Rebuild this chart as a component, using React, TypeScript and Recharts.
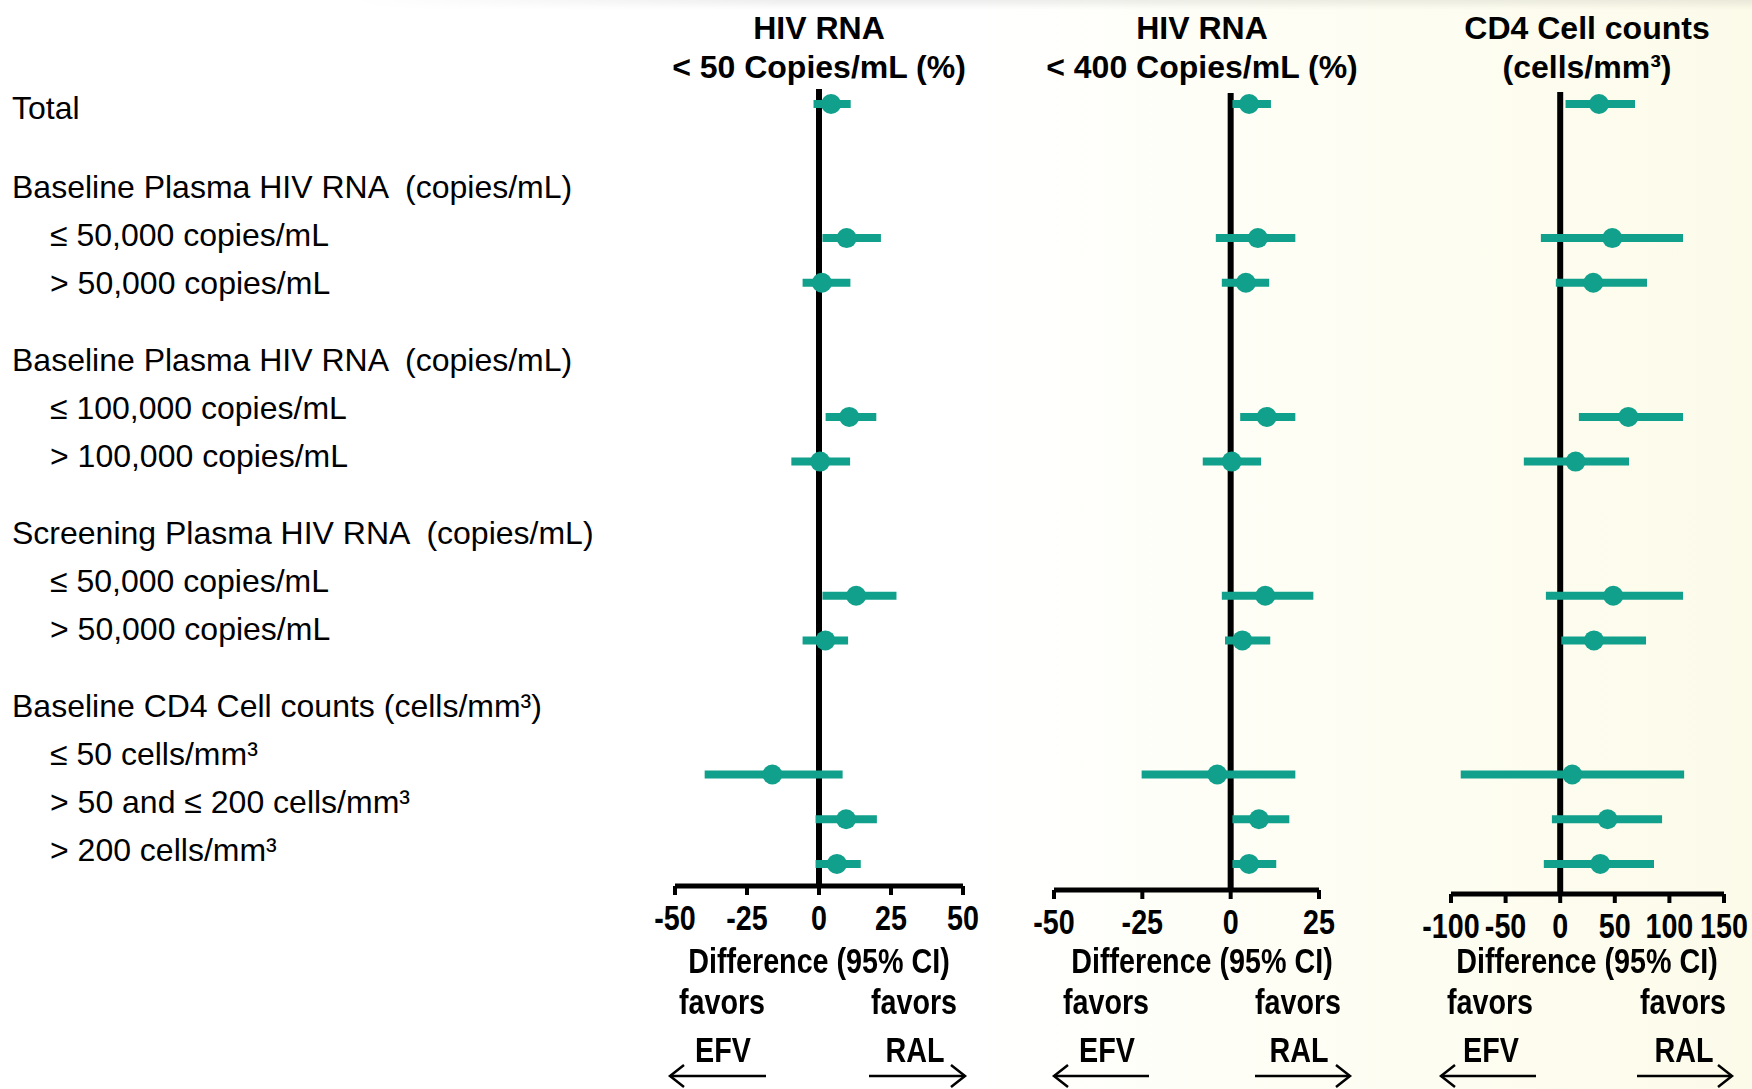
import React from "react";
import { ScatterChart, Scatter, XAxis, YAxis, ErrorBar, ReferenceLine } from "recharts";

// subgroup rows (group index decides the vertical gaps)
const rowGroup = [0, 1, 1, 2, 2, 3, 3, 4, 4, 4];

const groupTitles = [
  "Baseline Plasma HIV RNA  (copies/mL)",
  "Baseline Plasma HIV RNA  (copies/mL)",
  "Screening Plasma HIV RNA  (copies/mL)",
  "Baseline CD4 Cell counts (cells/mm³)",
];
const subgroupLabels = [
  ["≤ 50,000 copies/mL", "> 50,000 copies/mL"],
  ["≤ 100,000 copies/mL", "> 100,000 copies/mL"],
  ["≤ 50,000 copies/mL", "> 50,000 copies/mL"],
  ["≤ 50 cells/mm³", "> 50 and ≤ 200 cells/mm³", "> 200 cells/mm³"],
];

// HIV RNA < 50 copies/mL (%)
const rna50Est = [4.2, 9.6, 1.0, 10.5, 0.4, 12.9, 2.2, -16.2, 9.4, 6.2];
const rna50Low = [-1.9, 1.2, -5.7, 2.3, -9.6, 1.2, -5.7, -39.7, -1.2, -1.2];
const rna50High = [11.0, 21.5, 10.9, 19.9, 10.8, 26.9, 10.1, 8.2, 20.1, 14.5];

// HIV RNA < 400 copies/mL (%)
const rna400Est = [5.2, 7.7, 4.3, 10.2, 0.3, 9.8, 3.3, -3.8, 8.0, 5.2];
const rna400Low = [0.5, -4.2, -2.5, 2.7, -7.9, -2.5, -1.6, -25.2, 0.5, 0.5];
const rna400High = [11.4, 18.3, 10.9, 18.3, 8.6, 23.4, 11.2, 18.3, 16.6, 12.9];

// CD4 cell counts (cells/mm3)
const cd4Est = [35.5, 47.7, 30.3, 62.4, 14.1, 48.6, 30.9, 11.0, 43.4, 36.7];
const cd4Low = [4.9, -17.7, -4.0, 17.1, -33.3, -13.1, 1.0, -91.1, -7.6, -15.0];
const cd4High = [68.5, 112.5, 79.5, 112.5, 63.0, 112.5, 78.6, 113.5, 93.3, 85.9];

const rna50Ticks = [-50, -25, 0, 25, 50];
const rna400Ticks = [-50, -25, 0, 25];
const cd4Ticks = [-100, -50, 0, 50, 100, 150];

const TEAL = "#10a08b";
const SANS = '"Liberation Sans", Arial, sans-serif';
const NARROW_SCALE = 0.82; // no narrow face installed, so squeeze the bold sans
const TICK_FS = 35;

const ROW0_PX = 104;
const ROW_PX = 44.7;

const rowPos = rowGroup.map((g, i) => i + 2 * g);

const panels = [
  {
    title: ["HIV RNA", "< 50 Copies/mL (%)"],
    est: rna50Est, low: rna50Low, high: rna50High,
    domain: [-50, 50], ticks: rna50Ticks,
    x0: 675, x1: 963, top: 89, axisY: 886, labelX: 819,
    favors: [722, 914], arrows: [670, 766, 869, 965],
  },
  {
    title: ["HIV RNA", "< 400 Copies/mL (%)"],
    est: rna400Est, low: rna400Low, high: rna400High,
    domain: [-50, 25], ticks: rna400Ticks,
    x0: 1054, x1: 1319, top: 93, axisY: 890, labelX: 1202,
    favors: [1106, 1298], arrows: [1054, 1149, 1255, 1350],
  },
  {
    title: ["CD4 Cell counts", "(cells/mm³)"],
    est: cd4Est, low: cd4Low, high: cd4High,
    domain: [-100, 150], ticks: cd4Ticks,
    x0: 1451, x1: 1724, top: 92, axisY: 894, labelX: 1587,
    favors: [1490, 1683], arrows: [1441, 1536, 1637, 1732],
  },
];

// width of a bold numeric label, squeezed like Arial Narrow
const tickWidth = (s: string) =>
  s.split("").reduce((w, ch) => w + (ch === "-" ? 0.333 : 0.556), 0) * TICK_FS * NARROW_SCALE;

const renderTick = (p: any) => {
  const s = String(p.payload.value);
  return (
    <text
      x={p.x}
      y={p.y}
      dy="0.71em"
      textAnchor="middle"
      textLength={tickWidth(s)}
      lengthAdjust="spacingAndGlyphs"
      fontFamily={SANS}
      fontWeight={700}
      fontSize={TICK_FS}
      fill="#000"
    >
      {s}
    </text>
  );
};

const Dot = (p: any) => <circle cx={p.cx} cy={p.cy} r={10} fill={TEAL} />;

function ForestPanel({ panel }: { panel: any }) {
  const data = panel.est.map((v: number, i: number) => ({
    x: v,
    y: rowPos[i],
    err: [v - panel.low[i], panel.high[i] - v],
  }));
  const mL = 30;
  const mR = 26;
  const mT = 4;
  const axisH = 56;
  const width = panel.x1 - panel.x0 + mL + mR;
  const height = panel.axisY - panel.top + mT + axisH;
  const yTop = -(ROW0_PX - panel.top) / ROW_PX;
  const yBot = (panel.axisY - ROW0_PX) / ROW_PX;
  return (
    <div style={{ position: "absolute", left: panel.x0 - mL, top: panel.top - mT }}>
      <ScatterChart width={width} height={height} margin={{ top: mT, right: mR, bottom: 0, left: mL }}>
        <XAxis
          type="number"
          dataKey="x"
          domain={panel.domain}
          ticks={panel.ticks}
          interval={0}
          allowDataOverflow
          height={axisH}
          axisLine={{ stroke: "#000", strokeWidth: 5 }}
          tickLine={{ stroke: "#000", strokeWidth: 4 }}
          tickSize={9}
          tickMargin={10}
          tick={renderTick}
        />
        <YAxis type="number" dataKey="y" domain={[yTop, yBot]} reversed hide allowDataOverflow />
        <ReferenceLine x={0} stroke="#000" strokeWidth={6} />
        <Scatter data={data} fill={TEAL} shape={Dot} isAnimationActive={false}>
          <ErrorBar dataKey="err" direction="x" width={0} stroke={TEAL} strokeWidth={8} isAnimationActive={false} />
        </Scatter>
      </ScatterChart>
    </div>
  );
}

const centerText = (text: string, cx: number, cy: number, size: number, narrow: boolean, boxW = 340) => (
  <div
    key={text + cx + cy}
    style={{
      position: "absolute",
      left: cx - boxW / 2,
      width: boxW,
      top: cy - 13,
      height: 26,
      lineHeight: "26px",
      textAlign: "center",
      fontFamily: SANS,
      fontWeight: 700,
      fontSize: size,
      color: "#000",
      whiteSpace: "pre",
      transform: narrow ? `scaleX(${NARROW_SCALE})` : undefined,
    }}
  >
    {text}
  </div>
);

export default function App() {
  const leftRows: { text: string; y: number; indent: boolean }[] = [{ text: "Total", y: 108, indent: false }];
  groupTitles.forEach((t, k) => {
    const hy = 187 + 173 * k;
    leftRows.push({ text: t, y: hy, indent: false });
    subgroupLabels[k].forEach((s, j) => leftRows.push({ text: s, y: hy + 48 * (j + 1), indent: true }));
  });

  return (
    <div
      style={{
        position: "absolute",
        left: 0,
        top: 0,
        width: 1752,
        height: 1089,
        overflow: "hidden",
        background: "linear-gradient(to right, #ffffff 0%, #ffffff 56%, #fefef6 70%, #fcfbea 100%)",
      }}
    >
      <div
        style={{
          position: "absolute",
          left: 0,
          top: 0,
          width: 1752,
          height: 10,
          background: "linear-gradient(to bottom, rgba(0,0,0,0.07), rgba(0,0,0,0))",
          WebkitMaskImage: "linear-gradient(to right, transparent 20%, black 45%)",
        }}
      />
      {leftRows.map((r, i) => (
        <div
          key={i}
          style={{
            position: "absolute",
            left: r.indent ? 50 : 12,
            top: r.y - 19,
            height: 38,
            lineHeight: "38px",
            fontFamily: SANS,
            fontSize: 32,
            color: "#000",
            whiteSpace: "pre",
          }}
        >
          {r.text}
        </div>
      ))}

      {panels.map((p, i) => (
        <React.Fragment key={i}>
          <ForestPanel panel={p} />
          {centerText(p.title[0], p.labelX, 28, 32, false)}
          {centerText(p.title[1], p.labelX, 67, 32, false)}
          {centerText("Difference (95% CI)", p.labelX, 961, 35, true)}
          {centerText("favors", p.favors[0], 1002, 35, true, 130)}
          {centerText("favors", p.favors[1], 1002, 35, true, 130)}
          {centerText("EFV", p.favors[0] + 1, 1050, 35, true, 100)}
          {centerText("RAL", p.favors[1] + 1, 1050, 35, true, 100)}
        </React.Fragment>
      ))}

      <svg width={1752} height={1089} style={{ position: "absolute", left: 0, top: 0, pointerEvents: "none" }}>
        {panels.map((p, i) => {
          const [a, b, c, d] = p.arrows;
          return (
            <g key={i} stroke="#000" strokeWidth={2.5} fill="none">
              <line x1={a} y1={1076} x2={b} y2={1076} />
              <polyline points={`${a + 14},${1065} ${a},${1076} ${a + 14},${1087}`} />
              <line x1={c} y1={1076} x2={d} y2={1076} />
              <polyline points={`${d - 14},${1065} ${d},${1076} ${d - 14},${1087}`} />
            </g>
          );
        })}
      </svg>
    </div>
  );
}
